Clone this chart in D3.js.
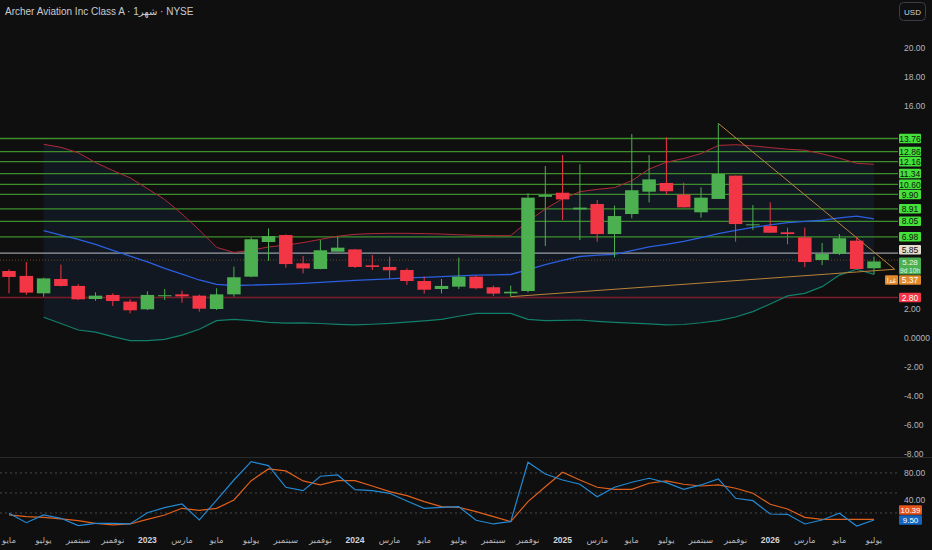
<!DOCTYPE html>
<html><head><meta charset="utf-8">
<script src="https://cdn.jsdelivr.net/npm/d3@7"></script>
<style>
html,body{margin:0;padding:0;background:#0f0f0f;}
svg{display:block;font-family:"Liberation Sans","DejaVu Sans",sans-serif;}
</style></head>
<body><svg id="c" width="932" height="550"></svg>
<script>
// ---- data ----
const monthLabels = ["مايو","يوليو","سبتمبر","نوفمبر","2023","مارس","مايو","يوليو","سبتمبر","نوفمبر","2024","مارس","مايو","يوليو","سبتمبر","نوفمبر","2025","مارس","مايو","يوليو","سبتمبر","نوفمبر","2026","مارس","مايو","يوليو"];
const opens  = [4.62,4.28,3.08,4.07,3.59,2.69,2.97,2.51,1.98,2.88,3.01,2.92,2.00,3.01,4.23,6.62,7.10,5.15,4.76,5.95,6.11,5.01,4.90,4.69,3.93,3.38,3.54,4.23,3.50,3.08,3.24,9.74,10.02,8.87,9.24,7.17,8.55,10.09,10.69,9.89,8.67,9.59,11.20,7.82,7.72,7.29,6.94,5.38,5.81,6.71,4.81];
const highs  = [4.74,5.24,4.16,5.06,3.72,3.15,3.08,2.67,3.22,3.38,3.26,3.00,3.43,4.92,6.94,7.56,7.14,5.66,6.76,6.99,6.14,5.72,5.61,4.80,4.23,4.07,5.54,4.30,3.61,3.61,9.98,11.86,12.62,11.98,9.52,9.13,14.07,12.62,13.84,10.71,10.39,14.80,11.20,9.17,9.36,7.61,7.61,6.55,7.17,6.99,5.61];
const lows   = [3.08,2.97,2.85,3.55,2.62,2.57,2.21,1.70,1.93,2.62,2.43,1.82,1.93,2.85,4.19,5.33,4.85,4.46,4.74,5.95,4.83,4.69,4.11,3.66,3.06,3.08,3.38,3.36,2.90,2.85,3.15,6.34,8.14,6.76,6.64,5.56,8.25,9.35,9.91,9.00,8.30,9.59,6.64,7.45,7.26,6.46,4.90,5.03,5.72,4.76,4.39];
const closes = [4.21,3.13,4.11,3.59,2.67,2.92,2.55,1.91,2.97,2.95,2.87,2.02,3.01,4.19,6.81,7.03,5.10,4.80,6.05,6.23,4.90,4.90,4.67,3.93,3.33,3.59,4.23,3.43,3.06,3.19,9.68,9.86,9.56,8.99,7.17,8.41,10.19,10.94,10.12,9.01,9.68,11.31,7.86,7.84,7.26,7.17,5.24,5.79,6.88,4.76,5.28];
const bandStart = 2;
const upperBand = [13.36,13.15,12.78,12.10,11.55,11.05,10.30,9.55,8.55,7.45,6.25,5.90,6.05,6.28,6.40,6.58,6.80,7.02,7.15,7.20,7.22,7.22,7.20,7.17,7.12,7.08,7.06,7.06,8.05,8.90,9.60,10.09,10.25,10.37,10.85,11.65,12.12,12.38,12.72,13.28,13.33,13.25,13.13,13.02,12.95,12.70,12.40,12.05,11.98];
const middleBand = [7.40,7.10,6.80,6.45,6.05,5.65,5.25,4.80,4.40,4.00,3.70,3.62,3.65,3.68,3.72,3.77,3.83,3.90,3.97,4.02,4.08,4.14,4.18,4.23,4.28,4.33,4.36,4.38,4.72,5.06,5.35,5.62,5.72,5.77,6.02,6.28,6.45,6.66,6.92,7.20,7.42,7.63,7.80,7.95,8.05,8.12,8.28,8.41,8.22];
const lowerBand = [1.43,1.00,0.55,0.40,0.10,-0.18,-0.18,-0.10,0.20,0.60,1.20,1.29,1.20,1.08,1.02,1.04,1.00,0.94,0.90,0.95,1.01,1.10,1.18,1.28,1.50,1.70,1.70,1.70,1.29,1.20,1.22,1.24,1.15,1.08,1.02,0.97,0.90,0.93,1.05,1.20,1.45,1.82,2.35,2.90,3.08,3.54,4.34,4.74,4.39];
const stochK = [19.5,5.4,17,12,1,4.5,4.5,3.5,20.4,28,33.4,9.5,39.4,69.4,96.9,91,58.5,53.4,75,77,55,53.4,49.5,38,27,28.5,29.4,9,3.5,7,96,78.4,69.4,63,44.4,58.5,66,72,65.4,55.5,62,71,42,38.4,18.4,18,3.5,9.5,19.5,0.5,9.5];
const stochD = [17,14.4,13.5,11,8.4,4.5,2,3.5,10.5,17,27,24,27,39.4,68.4,86,83,68,62,68.4,68.4,60.4,52,46,37,29.4,28.5,22,14.4,7,37,59.4,81,69.4,58.5,55.5,55.5,64.5,68,63,60.4,62,57,49.5,33,26,13.5,10.5,10.5,10.5,10.39];
const greenLevels = [13.76,12.86,12.16,11.34,10.60,9.90,8.91,8.05,6.98];
const greyLevel = 5.85;
const redLevel = 2.80;
const lastPrice = 5.28;
const orangePrice = 5.37;
const priceTicks = [20,18,16,2,0,-2,-4,-6,-8];
const oscTicks = [80,40];
const oscLevels = [80,50,20];
const trendUp = [{i:29,v:2.85},{i:51.2,v:4.74}];
const trendDown = [{i:41,v:14.80},{i:51.2,v:4.74}];

// ---- scales ----
const svg = d3.select("#c");
const W = 932, H = 550;
const x = d3.scaleLinear().domain([0,50]).range([9,874]);
const y = d3.scaleLinear().domain([0,20]).range([338,48]);
const yo = d3.scaleLinear().domain([0,100]).range([526.3,459.6]);
const candleW = 13.5;
const up = "#4caf50", dn = "#f23645";

svg.append("rect").attr("width",W).attr("height",H).attr("fill","#0f0f0f");
const defs = svg.append("defs");
defs.append("clipPath").attr("id","mainClip").append("rect").attr("x",0).attr("y",0).attr("width",898).attr("height",457);
defs.append("clipPath").attr("id","oscClip").append("rect").attr("x",0).attr("y",458).attr("width",898).attr("height",75);

const main = svg.append("g").attr("clip-path","url(#mainClip)");

// bollinger fill
const bIdx = d3.range(upperBand.length);
main.append("path").datum(bIdx)
  .attr("fill","#121821")
  .attr("d", d3.area().x(j=>x(j+bandStart)).y0(j=>y(lowerBand[j])).y1(j=>y(upperBand[j])));

// horizontal levels
main.selectAll("line.gl").data(greenLevels).join("line")
  .attr("x1",0).attr("x2",899).attr("y1",d=>y(d)).attr("y2",d=>y(d))
  .attr("stroke","#3c8f2c").attr("stroke-width",1.3);
main.append("line").attr("x1",0).attr("x2",899).attr("y1",y(greyLevel)).attr("y2",y(greyLevel))
  .attr("stroke","#9a9ca3").attr("stroke-width",1.3);
main.append("line").attr("x1",0).attr("x2",899).attr("y1",y(redLevel)).attr("y2",y(redLevel))
  .attr("stroke","#7c1c2a").attr("stroke-width",1.5);
main.append("line").attr("x1",0).attr("x2",899).attr("y1",y(orangePrice)).attr("y2",y(orangePrice))
  .attr("stroke","#6a4820").attr("stroke-width",1).attr("stroke-dasharray","1,2");

// bands
const bandLine = arr => d3.line().x((d,j)=>x(j+bandStart)).y(d=>y(d))(arr);
main.append("path").attr("d",bandLine(upperBand)).attr("fill","none").attr("stroke","#b02a37").attr("stroke-width",1);
main.append("path").attr("d",bandLine(middleBand)).attr("fill","none").attr("stroke","#2a5fe0").attr("stroke-width",1.3);
main.append("path").attr("d",bandLine(lowerBand)).attr("fill","none").attr("stroke","#11806a").attr("stroke-width",1.2);

// trendlines
const tl = d3.line().x(d=>x(d.i)).y(d=>y(d.v));
main.append("path").attr("d",tl(trendUp)).attr("fill","none").attr("stroke","#b9823a").attr("stroke-width",1);
main.append("path").attr("d",tl(trendDown)).attr("fill","none").attr("stroke","#b9823a").attr("stroke-width",1);

// candles
const cd = opens.map((o,i)=>({i,o,h:highs[i],l:lows[i],c:closes[i]}));
const cg = main.selectAll("g.c").data(cd).join("g");
cg.append("line").attr("x1",d=>x(d.i)).attr("x2",d=>x(d.i))
  .attr("y1",d=>y(d.h)).attr("y2",d=>y(d.l))
  .attr("stroke",d=>d.c>=d.o?up:dn).attr("stroke-width",1);
cg.append("rect").attr("x",d=>x(d.i)-candleW/2).attr("width",candleW)
  .attr("y",d=>y(Math.max(d.o,d.c)))
  .attr("height",d=>Math.max(1,Math.abs(y(d.o)-y(d.c))))
  .attr("fill",d=>d.c>=d.o?up:dn);

// pane separator
svg.append("line").attr("x1",0).attr("x2",W).attr("y1",457.5).attr("y2",457.5).attr("stroke","#2a2a2a");

// oscillator
const osc = svg.append("g").attr("clip-path","url(#oscClip)");
osc.selectAll("line.lv").data(oscLevels).join("line")
  .attr("x1",0).attr("x2",898).attr("y1",d=>yo(d)).attr("y2",d=>yo(d))
  .attr("stroke","#4a4a4a").attr("stroke-dasharray","2,3");
const ol = d3.line().x((d,i)=>x(i)).y(d=>yo(d));
osc.append("path").attr("d",ol(stochD)).attr("fill","none").attr("stroke","#e0601c").attr("stroke-width",1.2);
osc.append("path").attr("d",ol(stochK)).attr("fill","none").attr("stroke","#2389d4").attr("stroke-width",1.2);

// right axis
const fmt = v => v===0 ? "0.0000" : v.toFixed(2);
const ax = svg.append("g").attr("transform","translate(903,0)")
  .call(d3.axisRight(y).tickValues(priceTicks).tickFormat(fmt).tickSize(0));
ax.select(".domain").remove();
ax.selectAll("text").attr("fill","#b2b5be").attr("font-size",8.5).attr("x",1)
  .attr("font-family","Liberation Sans, DejaVu Sans, sans-serif");
const ax2 = svg.append("g").attr("transform","translate(903,0)")
  .call(d3.axisRight(yo).tickValues(oscTicks).tickFormat(d=>d.toFixed(2)).tickSize(0));
ax2.select(".domain").remove();
ax2.selectAll("text").attr("fill","#b2b5be").attr("font-size",8.5).attr("x",1)
  .attr("font-family","Liberation Sans, DejaVu Sans, sans-serif");

// price labels
function tag(v, yc, bg, fg, txt){
  const h = 9.5;
  svg.append("rect").attr("x",899).attr("y",yc-h/2).attr("width",22).attr("height",h).attr("fill",bg).attr("rx",1);
  svg.append("text").attr("x",910).attr("y",yc+3.2).attr("text-anchor","middle")
    .attr("font-size",8.5).attr("fill",fg).text(txt);
}
greenLevels.forEach(v=>tag(v,y(v),"#45e03a","#0b1a08",v.toFixed(2)));
tag(greyLevel,y(greyLevel)-3.5,"#e3ddd0","#111",greyLevel.toFixed(2));
tag(redLevel,y(redLevel),"#f23645","#fff",redLevel.toFixed(2));
// last price (two-line)
{
  const yc = y(lastPrice)+4.5;
  svg.append("rect").attr("x",899).attr("y",yc-8.5).attr("width",22).attr("height",17).attr("fill","#4caf50").attr("rx",1);
  svg.append("text").attr("x",910).attr("y",yc-0.8).attr("text-anchor","middle").attr("font-size",8).attr("fill","#eaf5ea").text(lastPrice.toFixed(2));
  svg.append("text").attr("x",910).attr("y",yc+7).attr("text-anchor","middle").attr("font-size",6.5).attr("fill","#eaf5ea").text("9d 10h");
  const yo2 = yc + 8.5 + 5.5;
  svg.append("rect").attr("x",899).attr("y",yo2-4.6).attr("width",22).attr("height",9.5).attr("fill","#e08a2c").attr("rx",1);
  svg.append("text").attr("x",910).attr("y",yo2+3.2).attr("text-anchor","middle").attr("font-size",8.5).attr("fill","#fff").text(orangePrice.toFixed(2));
  svg.append("rect").attr("x",885).attr("y",yo2-4.6).attr("width",13).attr("height",9.5).attr("fill","#e08a2c").attr("rx",1);
  svg.append("text").attr("x",891.5).attr("y",yo2+3).attr("text-anchor","middle").attr("font-size",7).attr("fill","#fff").text("غدا");
}
// oscillator labels
{
  const yk = yo(stochK[stochK.length-1]);
  svg.append("rect").attr("x",899).attr("y",yk-4.7).attr("width",23).attr("height",9.4).attr("fill","#1565c0").attr("rx",1);
  svg.append("text").attr("x",910.5).attr("y",yk+3).attr("text-anchor","middle").attr("font-size",8).attr("fill","#fff").text(stochK[stochK.length-1].toFixed(2));
  const yd = yk-10;
  svg.append("rect").attr("x",899).attr("y",yd-4.7).attr("width",23).attr("height",9.4).attr("fill","#e5541d").attr("rx",1);
  svg.append("text").attr("x",910.5).attr("y",yd+3).attr("text-anchor","middle").attr("font-size",8).attr("fill","#fff").text(stochD[stochD.length-1].toFixed(2));
}

// month labels
const lbIdx = monthLabels.map((d,k)=>k*2);
svg.selectAll("text.m").data(monthLabels).join("text")
  .attr("x",(d,k)=>x(lbIdx[k])).attr("y",543).attr("text-anchor","middle")
  .attr("font-size",8.5)
  .attr("font-weight",d=>/^\d/.test(d)?"bold":"normal")
  .attr("fill",d=>/^\d/.test(d)?"#d1d4dc":"#b2b5be")
  .text(d=>d);

// title
svg.append("text").attr("x",5).attr("y",15).attr("font-size",10).attr("fill","#c8cad0")
  .text("Archer Aviation Inc Class A · 1شهر · NYSE");

// USD box
svg.append("rect").attr("x",899.5).attr("y",2.5).attr("width",26).attr("height",18).attr("rx",4)
  .attr("fill","none").attr("stroke","#3a3d45");
svg.append("text").attr("x",912.5).attr("y",14.5).attr("text-anchor","middle").attr("font-size",8).attr("fill","#d1d4dc").text("USD");
</script></body></html>
